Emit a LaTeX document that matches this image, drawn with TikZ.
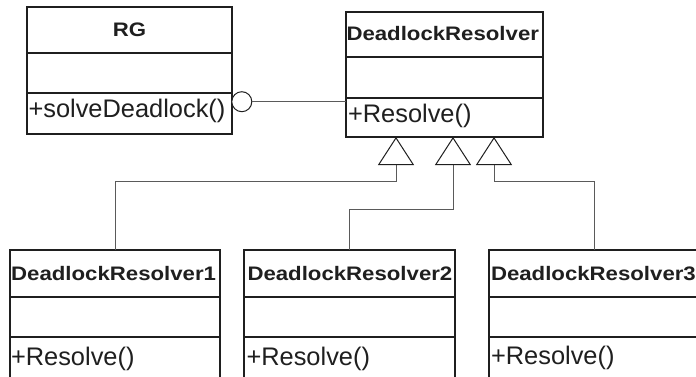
\documentclass[tikz,border=0pt]{standalone}
\usepackage{fontspec}
\usepackage{graphicx}
\setmainfont{Liberation Sans}
\usetikzlibrary{arrows.meta}
\definecolor{ink}{HTML}{1F1F1F}
\definecolor{wire}{HTML}{5A5A5A}
% class name (bold) and operation text
\newcommand{\clsname}[1]{\scalebox{1}[0.88]{\fontsize{22.2bp}{26bp}\selectfont\bfseries #1}}
\newcommand{\clsop}[1]{{\fontsize{25.4bp}{30bp}\selectfont #1}}
\tikzset{
  classbox/.style={draw=ink, line width=1.2bp, rectangle, anchor=north west,
    inner sep=0pt, outer sep=0pt},
  divider/.style={draw=ink, line width=1.2bp},
  txt/.style={inner sep=0pt, outer sep=0pt, text=ink},
  wireline/.style={draw=wire, line width=1bp},
  generalize/.style={draw=wire, line width=1bp,
    -{Triangle[open, length=28bp, width=36bp, color=ink, line width=1bp]}},
  ball/.style={circle, draw=ink, line width=1bp, minimum size=20bp, inner sep=0pt, fill=white},
}
\begin{document}
\begin{tikzpicture}[x=1bp, y=-1bp]
\clip (0,0) rectangle (696,376);
\useasboundingbox (0,0) rectangle (696,376);
\fill[white] (0,0) rectangle (696,376);

% class boxes
\node[classbox, minimum width=205bp, minimum height=127bp] (rg)  at (27,7)    {};
\node[classbox, minimum width=197bp, minimum height=125bp] (dr)  at (346,12)  {};
\node[classbox, minimum width=210bp, minimum height=200bp] (dr1) at (10,250)  {};
\node[classbox, minimum width=211bp, minimum height=200bp] (dr2) at (244,250) {};
\node[classbox, minimum width=210bp, minimum height=200bp] (dr3) at (489,250) {};

% compartment dividers
\foreach \b/\a/\o in {rg/46/86, dr/45/86, dr1/47/87, dr2/47/87, dr3/47/87}{
  \draw[divider] ([yshift=-\a bp]\b.north west) -- ([yshift=-\a bp]\b.north east);
  \draw[divider] ([yshift=-\o bp]\b.north west) -- ([yshift=-\o bp]\b.north east);
}

% class names
\node[txt, anchor=base] (rgname) at (129.5,36.7) {\clsname{RG}};
\node[txt, anchor=base west] (drname)  at (346.5,40.7) {\clsname{DeadlockResolver}};
\node[txt, anchor=base west] (dr1name) at (11.2,280)   {\clsname{DeadlockResolver1}};
\node[txt, anchor=base west] (dr2name) at (247.5,280)  {\clsname{DeadlockResolver2}};
\node[txt, anchor=base west] (dr3name) at (491,280.5)  {\clsname{DeadlockResolver3}};

% operations
\node[txt, anchor=base west] (rgop)  at (28.5,117.8) {\clsop{+solveDeadlock()}};
\node[txt, anchor=base west] (drop)  at (348,122.5)  {\clsop{+Resolve()}};
\node[txt, anchor=base west] (dr1op) at (11,365)     {\clsop{+Resolve()}};
\node[txt, anchor=base west] (dr2op) at (246.5,365)  {\clsop{+Resolve()}};
\node[txt, anchor=base west] (dr3op) at (491,364.5)  {\clsop{+Resolve()}};

% provided interface of RG, wired to DeadlockResolver
\node[ball] (sock) at (241.8,101.7) {};
\draw[wireline] (sock.east) -- (dr.west |- sock.east);

% generalizations
\draw[generalize] (dr1.north) -- ++(0,-69) -| ([xshift=50bp]dr.south west);
\draw[generalize] (dr2.north) -- ++(0,-41) -| ([xshift=107bp]dr.south west);
\draw[generalize] (dr3.north) -- ++(0,-69) -| ([xshift=148bp]dr.south west);
\end{tikzpicture}
\end{document}
